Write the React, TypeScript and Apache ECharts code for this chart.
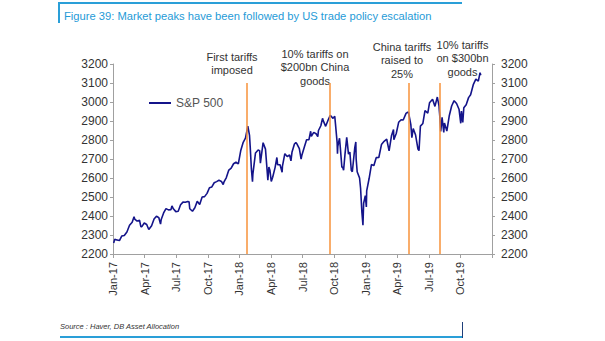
import React, { useEffect, useRef } from "react";
import * as echarts from "echarts";

// S&P 500 closes (approximate)
const spx2017: [string, number][] = [
  ["2017-01-03", 2258], ["2017-01-06", 2277], ["2017-01-13", 2274], ["2017-01-20", 2271],
  ["2017-01-27", 2295], ["2017-02-03", 2297], ["2017-02-10", 2316], ["2017-02-17", 2351],
  ["2017-02-24", 2367], ["2017-03-01", 2396], ["2017-03-03", 2383], ["2017-03-10", 2373],
  ["2017-03-17", 2378], ["2017-03-21", 2344], ["2017-03-24", 2344], ["2017-03-31", 2363],
  ["2017-04-07", 2355], ["2017-04-13", 2329], ["2017-04-21", 2349], ["2017-04-28", 2384],
  ["2017-05-05", 2399], ["2017-05-12", 2391], ["2017-05-17", 2357], ["2017-05-19", 2382],
  ["2017-05-26", 2416], ["2017-06-02", 2439], ["2017-06-09", 2432], ["2017-06-16", 2433],
  ["2017-06-19", 2453], ["2017-06-23", 2438], ["2017-06-30", 2423], ["2017-07-07", 2425],
  ["2017-07-14", 2459], ["2017-07-21", 2473], ["2017-07-28", 2472], ["2017-08-04", 2476],
  ["2017-08-08", 2475], ["2017-08-10", 2438], ["2017-08-18", 2425], ["2017-08-25", 2443],
  ["2017-09-01", 2477], ["2017-09-08", 2461], ["2017-09-15", 2500], ["2017-09-22", 2502],
  ["2017-09-29", 2519], ["2017-10-06", 2549], ["2017-10-13", 2553], ["2017-10-20", 2575],
  ["2017-10-27", 2581], ["2017-11-03", 2588], ["2017-11-10", 2582], ["2017-11-15", 2565],
  ["2017-11-17", 2578], ["2017-11-24", 2602], ["2017-12-01", 2642], ["2017-12-08", 2652],
  ["2017-12-15", 2675], ["2017-12-22", 2683], ["2017-12-29", 2674],
];

const spx2018: [string, number][] = [
  ["2018-01-05", 2743], ["2018-01-12", 2786], ["2018-01-19", 2810], ["2018-01-26", 2873],
  ["2018-01-31", 2824], ["2018-02-02", 2762], ["2018-02-05", 2649], ["2018-02-08", 2581],
  ["2018-02-09", 2620], ["2018-02-16", 2732], ["2018-02-23", 2747], ["2018-02-27", 2744],
  ["2018-03-01", 2678], ["2018-03-09", 2786], ["2018-03-16", 2752], ["2018-03-23", 2588],
  ["2018-03-26", 2658], ["2018-03-29", 2641], ["2018-04-02", 2582], ["2018-04-06", 2604],
  ["2018-04-13", 2656], ["2018-04-18", 2708], ["2018-04-20", 2670], ["2018-04-27", 2670],
  ["2018-05-03", 2630], ["2018-05-04", 2663], ["2018-05-11", 2728], ["2018-05-18", 2713],
  ["2018-05-25", 2721], ["2018-05-29", 2690], ["2018-06-01", 2735], ["2018-06-08", 2779],
  ["2018-06-12", 2786], ["2018-06-15", 2780], ["2018-06-22", 2755], ["2018-06-27", 2699],
  ["2018-06-29", 2718], ["2018-07-06", 2760], ["2018-07-13", 2801], ["2018-07-20", 2802],
  ["2018-07-25", 2846], ["2018-07-27", 2819], ["2018-08-03", 2840], ["2018-08-10", 2833],
  ["2018-08-15", 2818], ["2018-08-17", 2850], ["2018-08-24", 2875], ["2018-08-29", 2914],
  ["2018-08-31", 2902], ["2018-09-07", 2872], ["2018-09-14", 2905], ["2018-09-20", 2930],
  ["2018-09-21", 2930], ["2018-09-28", 2914], ["2018-10-03", 2925], ["2018-10-05", 2886],
  ["2018-10-10", 2786], ["2018-10-11", 2728], ["2018-10-12", 2767], ["2018-10-17", 2809],
  ["2018-10-19", 2768], ["2018-10-24", 2656], ["2018-10-26", 2659], ["2018-10-29", 2641],
  ["2018-11-02", 2723], ["2018-11-07", 2814], ["2018-11-09", 2781], ["2018-11-12", 2726],
  ["2018-11-16", 2736], ["2018-11-20", 2641], ["2018-11-23", 2633], ["2018-11-30", 2760],
  ["2018-12-03", 2790], ["2018-12-04", 2700], ["2018-12-07", 2633], ["2018-12-14", 2600],
  ["2018-12-17", 2546], ["2018-12-21", 2417], ["2018-12-24", 2351], ["2018-12-26", 2467],
  ["2018-12-31", 2507],
];

const spx2019: [string, number][] = [
  ["2019-01-03", 2448], ["2019-01-04", 2532], ["2019-01-11", 2596], ["2019-01-18", 2671],
  ["2019-01-25", 2665], ["2019-02-01", 2707], ["2019-02-08", 2708], ["2019-02-15", 2776],
  ["2019-02-22", 2793], ["2019-03-01", 2804], ["2019-03-08", 2743], ["2019-03-15", 2822],
  ["2019-03-21", 2855], ["2019-03-22", 2801], ["2019-03-29", 2834], ["2019-04-05", 2893],
  ["2019-04-12", 2907], ["2019-04-18", 2905], ["2019-04-26", 2940], ["2019-04-30", 2946],
  ["2019-05-03", 2946], ["2019-05-10", 2881], ["2019-05-13", 2812], ["2019-05-17", 2860],
  ["2019-05-24", 2826], ["2019-05-31", 2752], ["2019-06-03", 2744], ["2019-06-07", 2873],
  ["2019-06-14", 2887], ["2019-06-20", 2954], ["2019-06-28", 2942], ["2019-07-03", 2996],
  ["2019-07-12", 3014], ["2019-07-19", 2977], ["2019-07-26", 3026], ["2019-07-31", 2980],
  ["2019-08-01", 2953], ["2019-08-02", 2932], ["2019-08-05", 2845], ["2019-08-09", 2919],
  ["2019-08-14", 2840], ["2019-08-16", 2889], ["2019-08-23", 2847], ["2019-08-30", 2926],
  ["2019-09-06", 2979], ["2019-09-13", 3007], ["2019-09-20", 2992], ["2019-09-27", 2962],
  ["2019-10-02", 2888], ["2019-10-04", 2952], ["2019-10-08", 2893], ["2019-10-11", 2970],
  ["2019-10-18", 2986], ["2019-10-25", 3023], ["2019-10-31", 3038], ["2019-11-08", 3093],
  ["2019-11-15", 3120], ["2019-11-22", 3110], ["2019-11-27", 3154], ["2019-11-29", 3141],
];

const eventDates = ["2018-01-22", "2018-09-18", "2019-05-05", "2019-08-01"];
const eventLabels = [
  "First tariffs\nimposed",
  "10% tariffs on\n$200bn China\ngoods",
  "China tariffs\nraised to\n25%",
  "10% tariffs\non $300bn\ngoods",
];
const quarterNames = ["Jan", "Apr", "Jul", "Oct"];
const yMin = 2200;
const yMax = 3200;
const eventTop = 3100;

function toX(d: string): number {
  const [y, m, day] = d.split("-").map(Number);
  const dim = new Date(y, m, 0).getDate();
  return (y - 2017) * 12 + (m - 1) + (day - 1) / dim;
}

const FONT = "'Liberation Sans', Arial, sans-serif";
const TEXT = "#333333";

export default function App() {
  const ref = useRef<HTMLDivElement>(null);
  useEffect(() => {
    if (!ref.current) return;
    const chart = echarts.init(ref.current, undefined, { renderer: "svg" });
    const series = [...spx2017, ...spx2018, ...spx2019].map(([d, v]) => [toX(d), v]);
    const labelPos = [
      { x: 232, y: 50 },
      { x: 315, y: 47 },
      { x: 402, y: 40 },
      { x: 462.5, y: 38 },
    ];
    const axisLine = { show: true, lineStyle: { color: "#a0a0a0", width: 1 } };
    const plain = (v: number) => String(v);
    chart.setOption({
      animation: false,
      textStyle: { fontFamily: FONT },
      grid: { left: 113, right: 113, top: 64, bottom: 87, containLabel: false },
      legend: {
        show: true,
        left: 149,
        top: 97,
        padding: 0,
        icon: "rect",
        itemWidth: 22,
        itemHeight: 2,
        data: ["S&P 500"],
        textStyle: { fontSize: 12, color: "#555", fontFamily: FONT },
      },
      xAxis: {
        type: "value",
        min: 0,
        max: 36,
        interval: 3,
        splitLine: { show: false },
        axisLine,
        axisTick: { show: true, length: 4, lineStyle: { color: "#a0a0a0" } },
        axisLabel: {
          rotate: 90,
          margin: 8,
          fontSize: 11,
          color: TEXT,
          fontFamily: FONT,
          formatter: (v: number) => {
            if (v >= 36) return "";
            const yr = 17 + Math.floor(v / 12);
            return quarterNames[Math.round((v % 12) / 3)] + "-" + yr;
          },
        },
      },
      yAxis: [
        {
          type: "value",
          position: "left",
          min: yMin,
          max: yMax,
          interval: 100,
          splitLine: { show: false },
          axisLine,
          axisTick: { show: true, length: 3, lineStyle: { color: "#a0a0a0" } },
          axisLabel: { margin: 5, fontSize: 12, color: TEXT, fontFamily: FONT, formatter: plain },
        },
        {
          type: "value",
          position: "right",
          min: yMin,
          max: yMax,
          interval: 100,
          splitLine: { show: false },
          axisLine,
          axisTick: { show: true, length: 3, lineStyle: { color: "#a0a0a0" } },
          axisLabel: { margin: 9, fontSize: 12, color: TEXT, fontFamily: FONT, formatter: plain },
        },
      ],
      series: [
        {
          name: "S&P 500",
          type: "line",
          data: series,
          showSymbol: false,
          symbol: "none",
          lineStyle: { color: "#14148a", width: 1.6 },
          itemStyle: { color: "#14148a" },
          z: 3,
          markLine: {
            silent: true,
            symbol: "none",
            label: { show: false },
            lineStyle: { color: "#f7923a", width: 1.5, type: "solid" },
            data: eventDates.map((d) => [
              { coord: [toX(d), yMin] },
              { coord: [toX(d), eventTop] },
            ]),
          },
        },
      ],
      graphic: [
        {
          type: "rect",
          shape: { x: 58, y: 2, width: 404, height: 2 },
          style: { fill: "#2a9fd8" },
        },
        {
          type: "rect",
          shape: { x: 58, y: 2, width: 2, height: 21 },
          style: { fill: "#2a9fd8" },
        },
        {
          type: "text",
          x: 64,
          y: 16,
          style: {
            text: "Figure 39: Market peaks have been followed by US trade policy escalation",
            fill: "#1f9bd7",
            fontSize: 11.2,
            fontFamily: FONT,
            verticalAlign: "middle",
          },
        },
        ...eventLabels.map((t, i) => ({
          type: "text",
          x: labelPos[i].x,
          y: labelPos[i].y,
          style: {
            text: t,
            fill: TEXT,
            fontSize: 11,
            lineHeight: 13.5,
            fontFamily: FONT,
            align: "center",
            verticalAlign: "top",
          },
        })),
        {
          type: "text",
          x: 60,
          y: 326,
          style: {
            text: "Source : Haver, DB Asset Allocation",
            fill: TEXT,
            fontSize: 7.5,
            fontStyle: "italic",
            fontFamily: FONT,
            verticalAlign: "middle",
          },
        },
        {
          type: "rect",
          shape: { x: 60, y: 336, width: 403, height: 2 },
          style: { fill: "#2a9fd8" },
        },
        {
          type: "rect",
          shape: { x: 462, y: 322, width: 1, height: 16 },
          style: { fill: "#1f3f7a" },
        },
      ],
    });
    return () => chart.dispose();
  }, []);
  return (
    <div
      ref={ref}
      style={{ position: "absolute", left: 0, top: 0, width: 605, height: 341, background: "#fff" }}
    />
  );
}
